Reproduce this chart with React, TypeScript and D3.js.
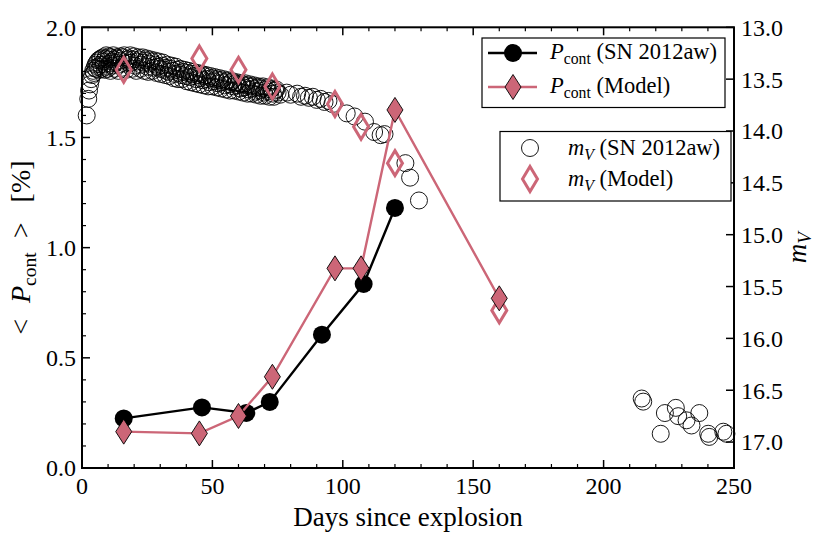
import React from 'react';
import * as d3 from 'd3';

// P_cont observed (SN 2012aw)
const pObsDays = [16, 46, 63, 72, 92, 108, 120];
const pObsVals = [0.225, 0.275, 0.25, 0.30, 0.605, 0.835, 1.18];
// P_cont model
const pModDays = [16, 45, 60, 73, 97, 107, 120, 160];
const pModVals = [0.165, 0.157, 0.236, 0.414, 0.906, 0.906, 1.625, 0.77];
// m_V model (same epochs as P_cont model)
const mModVals = [13.41, 13.3, 13.41, 13.57, 13.74, 13.96, 14.31, 15.73];
// m_V observed (SN 2012aw)
const mObsDays = [
  1.8, 2.4, 2.7, 3.1, 3.5, 3.9, 4.3, 4.8, 5.2, 5.7, 6.2, 6.8, 7.3,
  8.0, 8.4, 9.0, 9.5, 10.0, 10.6, 11.1, 11.7, 12.3, 12.9, 13.6, 14.2, 15.0, 15.8, 16.5, 17.3,
  18.1, 18.9, 19.6, 20.4, 21.2, 22.0, 22.8, 23.5, 24.3, 25.0, 25.8, 26.6, 27.4, 28.2, 29.0,
  29.8, 30.6, 31.5, 32.3, 33.1, 34.0, 34.8, 35.6, 36.4, 37.2, 38.0, 38.9, 39.7, 40.5, 41.3,
  42.1, 43.0, 43.8, 44.6, 45.5, 46.3, 47.1, 48.0, 48.8, 49.6, 50.5, 51.3, 52.2, 53.0, 53.8,
  54.7, 55.5, 56.3, 57.2, 58.0, 58.9, 59.7, 60.6, 61.4, 62.2, 63.1, 63.9, 64.8, 65.6, 66.5,
  67.3, 68.1, 69.0, 69.8, 70.7, 71.5, 72.4, 73.2, 74.1, 75.0, 76.0,
  4.6, 5.4, 6.0, 6.6, 7.1, 7.7, 8.2, 8.8, 9.3, 9.8, 10.3, 10.9, 11.4, 12.0, 12.6, 13.2, 13.9,
  14.6, 15.4, 16.2, 16.9, 17.7, 18.5, 19.3, 20.0, 20.8, 21.6, 22.4, 23.2, 23.9, 24.7, 25.4,
  26.2, 27.0, 27.8, 28.6, 29.4, 30.2, 31.0, 31.9, 32.7, 33.5, 34.4, 35.2, 36.0, 36.8, 37.6,
  38.4, 39.3, 40.1, 40.9, 41.7, 42.6, 43.4, 44.2, 45.0, 45.9, 46.7, 47.5, 48.4, 49.2, 50.0,
  50.9, 51.7, 52.6, 53.4, 54.2, 55.1, 55.9, 56.7, 57.6, 58.4, 59.3, 60.1, 61.0, 61.8, 62.6,
  63.5, 64.3, 65.2, 66.0, 66.9, 67.7, 68.5, 69.4, 70.2, 71.1, 71.9, 72.8, 73.6, 74.5,
  78.5, 80.0, 82.5, 84.0, 85.5, 87.0, 88.5, 90.0, 91.5, 93.0, 94.5, 96.0,
  101.5, 104.5, 108.5, 112.0, 114.5, 116.0, 124.0, 125.8, 129.2,
  214.6, 215.2, 221.9, 223.5, 227.7, 228.6, 231.8, 233.7, 236.7, 240.1, 240.5, 245.9, 247.1,
];
const mObsVals = [
  13.85, 13.69, 13.61, 13.55, 13.5, 13.46, 13.42, 13.39, 13.36, 13.34, 13.32, 13.31, 13.3,
  13.29, 13.36, 13.3, 13.38, 13.31, 13.35, 13.29, 13.37, 13.31, 13.34, 13.3, 13.36, 13.32, 13.29, 13.35, 13.31,
  13.3, 13.34, 13.31, 13.37, 13.33, 13.31, 13.36, 13.34, 13.32, 13.38, 13.35, 13.33, 13.39, 13.36, 13.38,
  13.4, 13.37, 13.41, 13.39, 13.43, 13.4, 13.42, 13.45, 13.41, 13.44, 13.46, 13.43, 13.47, 13.44, 13.48,
  13.45, 13.47, 13.5, 13.46, 13.49, 13.51, 13.47, 13.5, 13.53, 13.49, 13.52, 13.5, 13.54, 13.51, 13.53,
  13.56, 13.52, 13.55, 13.53, 13.57, 13.54, 13.56, 13.59, 13.55, 13.58, 13.56, 13.6, 13.57, 13.59, 13.62,
  13.58, 13.61, 13.59, 13.63, 13.6, 13.62, 13.6, 13.64, 13.61, 13.63, 13.65,
  13.44, 13.4, 13.38, 13.41, 13.36, 13.4, 13.33, 13.41, 13.27, 13.4, 13.28, 13.42, 13.33, 13.27, 13.4, 13.29, 13.42,
  13.28, 13.39, 13.27, 13.41, 13.34, 13.27, 13.4, 13.28, 13.42, 13.29, 13.4, 13.29, 13.42, 13.3, 13.43,
  13.31, 13.42, 13.32, 13.44, 13.33, 13.45, 13.34, 13.46, 13.36, 13.47, 13.37, 13.49, 13.38, 13.5, 13.4,
  13.5, 13.41, 13.52, 13.42, 13.53, 13.43, 13.54, 13.44, 13.55, 13.45, 13.56, 13.46, 13.57, 13.47, 13.57,
  13.48, 13.58, 13.49, 13.59, 13.5, 13.6, 13.51, 13.61, 13.52, 13.61, 13.53, 13.62, 13.54, 13.63, 13.54,
  13.64, 13.55, 13.64, 13.56, 13.65, 13.57, 13.66, 13.57, 13.66, 13.58, 13.67, 13.59, 13.67, 13.6,
  13.63, 13.65, 13.64, 13.67, 13.66, 13.68, 13.67, 13.7, 13.69, 13.72, 13.71, 13.74,
  13.83, 13.86, 13.91, 14.01, 14.04, 14.03, 14.31, 14.45, 14.67,
  16.58, 16.61, 16.92, 16.72, 16.67, 16.75, 16.79, 16.84, 16.72, 16.92, 16.95, 16.9, 16.92,
];

const xMajor = [0, 50, 100, 150, 200, 250];
const yLeftMajor = [0, 0.5, 1.0, 1.5, 2.0];
const yRightMajor = [13.0, 13.5, 14.0, 14.5, 15.0, 15.5, 16.0, 16.5, 17.0];

const PINK = '#CC6677';
const FONT = '"Liberation Serif", "DejaVu Serif", serif';

const W = 817;
const H = 545;
const L = 82, R = 734, T = 27.3, B = 468;

const x = d3.scaleLinear().domain([0, 250]).range([L, R]);
const yL = d3.scaleLinear().domain([0, 2]).range([B, T]);
const yR = d3.scaleLinear().domain([13, 17.25]).range([T, B]);

const diamond = (w: number, h: number) => `M0,${-h}L${w},0L0,${h}L${-w},0Z`;

const xMinor = d3.range(0, 251, 10).filter((v) => v % 50 !== 0);
const yLeftMinor = d3.range(0, 2.0001, 0.1).filter((v) => Math.abs(v * 2 - Math.round(v * 2)) > 1e-6);

export default function App() {
  const line = d3.line<[number, number]>().x((d) => d[0]).y((d) => d[1]);
  const pObsPts: [number, number][] = pObsDays.map((d, i) => [x(d), yL(pObsVals[i])]);
  const pModPts: [number, number][] = pModDays.map((d, i) => [x(d), yL(pModVals[i])]);

  const Pcont = (size: number) => (
    <>
      <tspan fontStyle="italic">P</tspan>
      <tspan fontSize={size * 0.7} dy={size * 0.2}>cont</tspan>
    </>
  );
  const LS = 22.5;
  const YS = 28;

  return (
    <svg width={W} height={H} style={{ position: 'absolute', left: 0, top: 0, background: '#fff' }} fontFamily={FONT}>
      <rect x={0} y={0} width={W} height={H} fill="#fff" />

      {/* m_V observed */}
      {mObsDays.map((d, i) => (
        <circle key={'mo' + i} cx={x(d)} cy={yR(mObsVals[i])} r={8.5} fill="none" stroke="#000" strokeWidth={0.9} />
      ))}
      {/* m_V model */}
      {pModDays.map((d, i) => (
        <path key={'mm' + i} d={diamond(7.5, 12.5)} transform={`translate(${x(d)},${yR(mModVals[i])})`} fill="none" stroke={PINK} strokeWidth={3} strokeLinejoin="miter" />
      ))}

      {/* P_cont observed */}
      <path d={line(pObsPts) || ''} fill="none" stroke="#000" strokeWidth={2.4} />
      {pObsPts.map((p, i) => (
        <circle key={'po' + i} cx={p[0]} cy={p[1]} r={9} fill="#000" />
      ))}
      {/* P_cont model */}
      <path d={line(pModPts) || ''} fill="none" stroke={PINK} strokeWidth={2.4} />
      {pModPts.map((p, i) => (
        <path key={'pm' + i} d={diamond(8, 12.5)} transform={`translate(${p[0]},${p[1]})`} fill={PINK} stroke="#000" strokeWidth={0.9} />
      ))}

      {/* frame */}
      <rect x={L} y={T} width={R - L} height={B - T} fill="none" stroke="#000" strokeWidth={2} />

      {/* x ticks bottom & top */}
      {xMajor.map((v) => (
        <g key={'xM' + v}>
          <line x1={x(v)} x2={x(v)} y1={B} y2={B - 8} stroke="#000" strokeWidth={1.5} />
          <line x1={x(v)} x2={x(v)} y1={T} y2={T + 8} stroke="#000" strokeWidth={1.5} />
          <text x={x(v)} y={494} fontSize={24} textAnchor="middle">{v}</text>
        </g>
      ))}
      {xMinor.map((v) => (
        <g key={'xm' + v}>
          <line x1={x(v)} x2={x(v)} y1={B} y2={B - 4} stroke="#000" strokeWidth={1.2} />
          <line x1={x(v)} x2={x(v)} y1={T} y2={T + 4} stroke="#000" strokeWidth={1.2} />
        </g>
      ))}

      {/* left ticks */}
      {yLeftMajor.map((v) => (
        <g key={'yM' + v}>
          <line x1={L} x2={L + 8} y1={yL(v)} y2={yL(v)} stroke="#000" strokeWidth={1.5} />
          <text x={76} y={yL(v)} dy="0.35em" fontSize={24} textAnchor="end">{v.toFixed(1)}</text>
        </g>
      ))}
      {yLeftMinor.map((v, i) => (
        <line key={'ym' + i} x1={L} x2={L + 4} y1={yL(v)} y2={yL(v)} stroke="#000" strokeWidth={1.2} />
      ))}

      {/* right ticks */}
      {yRightMajor.map((v) => (
        <g key={'rM' + v}>
          <line x1={R} x2={R - 8} y1={yR(v)} y2={yR(v)} stroke="#000" strokeWidth={1.5} />
          <text x={741} y={yR(v)} dy="0.35em" fontSize={24} textAnchor="start">{v.toFixed(1)}</text>
        </g>
      ))}

      {/* axis labels */}
      <text x={408} y={526} fontSize={27} textAnchor="middle">Days since explosion</text>
      <text transform={`translate(30,${(T + B) / 2}) rotate(-90)`} fontSize={YS} textAnchor="middle">
        <tspan>{'<'}</tspan>
        <tspan dx={16} fontStyle="italic">P</tspan>
        <tspan fontSize={YS * 0.7} dy={YS * 0.2}>cont</tspan>
        <tspan dx={14} dy={-YS * 0.2}>{'>'}</tspan>
        <tspan dx={20}>{'[%]'}</tspan>
      </text>
      <text transform={`translate(806,${(T + B) / 2}) rotate(-90)`} fontSize={27} textAnchor="middle">
        <tspan fontStyle="italic">m</tspan>
        <tspan fontSize={27 * 0.7} fontStyle="italic" dy={27 * 0.2}>V</tspan>
      </text>

      {/* legend 1 */}
      <rect x={482} y={38} width={243} height={69.5} fill="#fff" stroke="#000" strokeWidth={1.2} />
      <line x1={488} x2={537} y1={53} y2={53} stroke="#000" strokeWidth={2.4} />
      <circle cx={513} cy={53} r={9} fill="#000" />
      <text x={550} y={59} fontSize={LS}>
        {Pcont(LS)}
        <tspan dy={-LS * 0.2}>{' (SN 2012aw)'}</tspan>
      </text>
      <line x1={488} x2={537} y1={87} y2={87} stroke={PINK} strokeWidth={2.4} />
      <path d={diamond(8, 12.5)} transform="translate(513,87)" fill={PINK} stroke="#000" strokeWidth={0.9} />
      <text x={550} y={93} fontSize={LS}>
        {Pcont(LS)}
        <tspan dy={-LS * 0.2}>{' (Model)'}</tspan>
      </text>

      {/* legend 2 */}
      <rect x={500} y={131.5} width={231} height={69.5} fill="#fff" stroke="#000" strokeWidth={1.2} />
      <circle cx={530} cy={148} r={8.5} fill="none" stroke="#000" strokeWidth={0.9} />
      <text x={568} y={155} fontSize={LS}>
        <tspan fontStyle="italic">m</tspan>
        <tspan fontSize={LS * 0.7} fontStyle="italic" dy={LS * 0.2}>V</tspan>
        <tspan dy={-LS * 0.2}>{' (SN 2012aw)'}</tspan>
      </text>
      <path d={diamond(7.5, 12.5)} transform="translate(530,179)" fill="none" stroke={PINK} strokeWidth={3} />
      <text x={568} y={186} fontSize={LS}>
        <tspan fontStyle="italic">m</tspan>
        <tspan fontSize={LS * 0.7} fontStyle="italic" dy={LS * 0.2}>V</tspan>
        <tspan dy={-LS * 0.2}>{' (Model)'}</tspan>
      </text>
    </svg>
  );
}
